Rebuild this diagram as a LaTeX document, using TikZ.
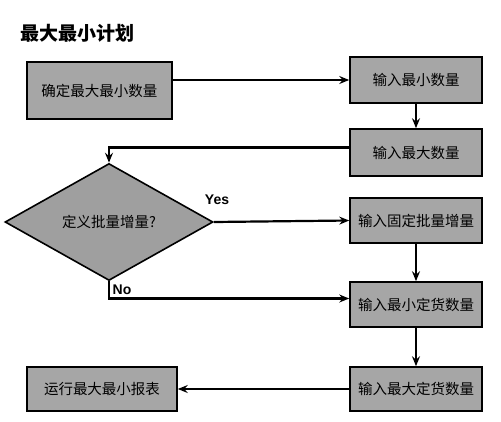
\documentclass[tikz,border=0pt]{standalone}
\usepackage{fontspec}
\setmainfont{Liberation Sans}
\newfontfamily\cjk{Noto Sans CJK SC}
\usetikzlibrary{shapes.geometric,arrows.meta}

\tikzset{
  stepbox/.style={draw=black, fill=gray!70, line width=1.6pt,
    minimum width=132pt, minimum height=46pt, inner sep=2pt,
    font={\cjk\fontsize{14.5}{14.5}\selectfont}},
  decide/.style={draw=black, fill=gray!75, line width=1.6pt, diamond, aspect=1.8,
    minimum width=208pt, minimum height=117pt, inner sep=0pt,
    font={\cjk\fontsize{14.5}{14.5}\selectfont}},
  flow/.style={line width=2.2pt, -{Stealth[length=10pt,width=8pt,inset=3.5pt]}},
  answer/.style={font={\bfseries\fontsize{14}{14}\selectfont}}
}

\begin{document}
\begin{tikzpicture}[x=1pt,y=-1pt]

\useasboundingbox (0,0) rectangle (501,421);

\node [font={\cjk\bfseries\fontsize{19}{19}\selectfont}, anchor=west] (title) at (17,33) {最大最小计划};

% left column
\node [stepbox, minimum width=145pt, minimum height=57pt] (dingliang) at (99.5,90.5) {确定最大最小数量};
\node [decide] (piliang) at (109,222) {定义批量增量?};
\node [stepbox, minimum width=150pt, minimum height=44pt] (baobiao) at (102,389) {运行最大最小报表};

% right column
\node [stepbox] (zuixiao) at (416,80) {输入最小数量};
\node [stepbox, minimum height=47pt] (zuida) at (416,152.5) {输入最大数量};
\node [stepbox, minimum height=45pt] (zengliang) at (416,220.5) {输入固定批量增量};
\node [stepbox, minimum height=45pt] (xiaoding) at (416,304.5) {输入最小定货数量};
\node [stepbox, minimum height=44pt] (dading) at (416,389) {输入最大定货数量};

\node [answer] (yes) at (217,200) {Yes};
\node [answer] (no) at (122,290) {No};

\draw [flow] (dingliang.east |- zuixiao) -- (zuixiao.west);
\draw [flow] (zuixiao) -- (zuida);
\draw [flow] ([yshift=5pt]zuida.west) -| (piliang.north);
\draw [flow] (piliang.east) -- (zengliang.west);
\draw [flow] (piliang.south) |- ([yshift=6pt]xiaoding.west);
\draw [flow] (zengliang) -- (xiaoding);
\draw [flow] (xiaoding) -- (dading);
\draw [flow] (dading.west) -- (baobiao.east);

\end{tikzpicture}
\end{document}
